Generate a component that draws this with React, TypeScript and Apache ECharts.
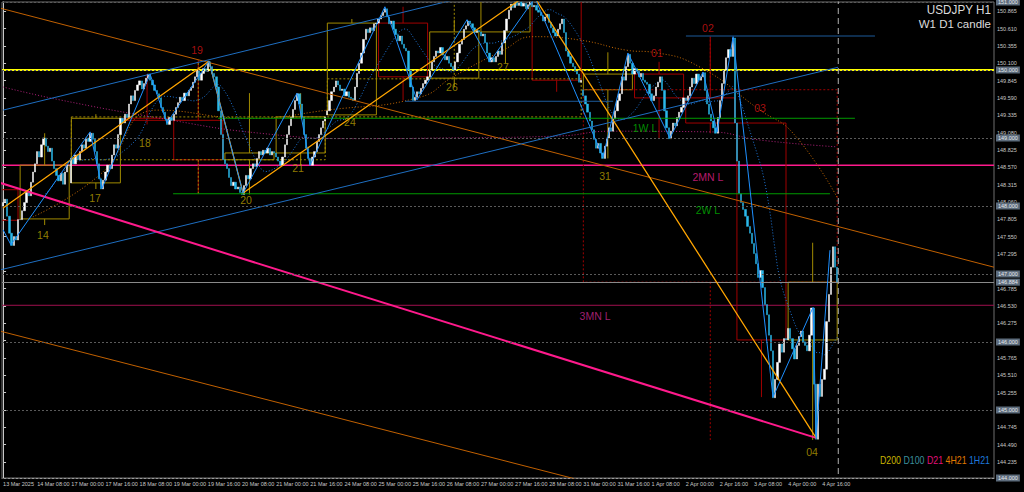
import { useEffect, useRef } from "react";
import * as echarts from "echarts";

// ---------------- DATA ----------------
// hourly closes, USDJPY H1 (13 Mar 16:00 -> 4 Apr 23:00)
const week1 = [
  148.05, 148.1, 147.85, 147.6, 147.42, 147.55, 147.5, 147.8, 147.8, 147.93,
  148.05, 148.2, 148.15, 148.35, 148.5, 148.62, 148.8, 148.72, 148.9, 149.0,
  148.88, 148.8, 148.85, 148.66, 148.55, 148.45, 148.37, 148.48, 148.32, 148.5,
  148.6, 148.6,
];
const week2 = [
  148.7, 148.62, 148.75, 148.68, 148.8, 148.9, 148.85, 149.0, 148.95, 149.07,
  148.98, 148.8, 148.62, 148.4, 148.25, 148.38, 148.5, 148.6, 148.55, 148.75,
  148.9, 148.85, 149.05, 149.29, 149.22, 149.35, 149.3, 149.5, 149.62, 149.55,
  149.7, 149.78, 149.84, 149.72, 149.8, 149.88, 149.94, 149.85, 149.78, 149.7,
  149.65, 149.59, 149.45, 149.38, 149.28, 149.2, 149.3, 149.26, 149.35, 149.45,
  149.52, 149.6, 149.55, 149.66, 149.62, 149.7, 149.74, 149.82, 149.9, 150.0,
  149.85, 149.95, 150.02, 149.98, 150.12, 150.05, 149.95, 149.9, 149.75, 149.4,
  149.05, 148.68, 148.62, 148.55, 148.42, 148.3, 148.35, 148.25, 148.28, 148.2,
  148.17, 148.3, 148.45, 148.4, 148.55, 148.62, 148.58, 148.7, 148.8, 148.75,
  148.82, 148.78, 148.85, 148.75, 148.8, 148.78, 148.72, 148.66, 148.6, 148.72,
  148.9, 149.05, 149.18, 149.3, 149.42, 149.55, 149.65, 149.5, 149.3, 149.05,
  148.85, 148.7, 148.6, 148.72, 148.8, 148.95, 149.05, 149.15, 149.25, 149.31,
];
const week3 = [
  149.4, 149.55, 149.68, 149.75, 149.84, 149.78, 149.7, 149.72, 149.62, 149.68,
  149.6, 149.58, 149.55, 149.75, 149.95, 150.1, 150.25, 150.45, 150.6, 150.55,
  150.62, 150.58, 150.68, 150.69,
  150.75, 150.8, 150.85, 150.9, 150.78, 150.68, 150.72, 150.6, 150.52, 150.43,
  150.5, 150.38, 150.32, 150.28, 150.0, 149.75, 149.55, 149.6, 149.68, 149.65,
  149.73, 149.8, 149.85, 149.9,
  150.0, 150.12, 150.2, 150.28, 150.25, 150.33, 150.22, 150.15, 150.2, 150.1,
  150.05, 150.0, 150.12, 150.25, 150.38, 150.45, 150.6, 150.65, 150.72, 150.68,
  150.62, 150.55, 150.58, 150.56,
  150.5, 150.53, 150.4, 150.25, 150.12, 150.18, 150.12, 150.2, 150.28, 150.23,
  150.4, 150.58, 150.75, 150.88, 150.97, 150.92, 151.0, 150.95, 151.0, 150.94,
  150.98, 150.9, 150.96, 151.0,
  150.93, 150.95, 150.88, 150.85, 150.8, 150.72, 150.78, 150.82, 150.7, 150.62,
  150.55, 150.5, 150.6, 150.68, 150.75, 150.55, 150.28, 150.2, 150.1, 150.05,
  149.98, 149.94, 149.82, 149.85,
];
const week4 = [
  149.62, 149.5, 149.38, 149.25, 149.12, 148.98, 148.85, 148.92, 148.78, 148.7,
  148.88, 149.0, 149.15, 149.1, 149.28, 149.4, 149.55, 149.65, 149.9, 149.85,
  150.05, 150.23, 150.1, 149.94,
  150.02, 149.98, 149.9, 149.95, 149.85, 149.82, 149.79, 149.65, 149.55, 149.62,
  149.75, 149.82, 149.9, 149.7, 149.4, 149.15, 148.99, 149.1, 149.22, 149.18,
  149.3, 149.38, 149.45, 149.59,
  149.55, 149.62, 149.75, 149.88, 149.8, 149.94, 149.85, 149.9, 149.96, 149.7,
  149.5, 149.35, 149.25, 149.15, 149.07, 149.3, 149.55, 149.8, 150.0, 150.18,
  150.3, 150.2, 150.47, 149.22,
  148.66, 148.18, 148.05, 147.95, 147.85, 147.7, 147.6, 147.45, 147.3, 147.15,
  146.95, 147.05, 146.8, 146.55, 146.4, 146.1, 145.87, 145.18, 145.45, 145.7,
  145.97, 145.85, 146.05, 146.03,
  146.2, 146.05, 145.9, 145.75, 145.95, 146.08, 146.16, 146.0, 145.95, 145.87,
  146.1, 146.5, 145.38, 144.57, 145.38, 145.2, 145.45, 145.6, 146.3, 146.7,
  147.1, 147.4, 147.1, 146.88,
];
const weekStartBars = [0, 32, 152, 272];
const weekOpens = [148.0, 148.34, 149.34, 149.71];

const tradingDays = [
  "13 Mar", "14 Mar", "17 Mar", "18 Mar", "19 Mar", "20 Mar", "21 Mar",
  "24 Mar", "25 Mar", "26 Mar", "27 Mar", "28 Mar",
  "31 Mar", "1 Apr", "2 Apr", "3 Apr", "4 Apr",
];
const firstDayStartHour = 16;
const totalSlots = 465;

// D1 candles (open, close, high, low) drawn as boxes
const dayOpens = [148.24, 147.81, 148.34, 149.29, 149.26, 148.68, 148.78, 149.34, 150.69, 149.88, 150.56, 151.03, 149.71, 149.94, 149.59, 149.22, 146.03];
const dayCloses = [147.79, 148.6, 149.29, 149.26, 148.68, 148.78, 149.31, 150.69, 149.9, 150.56, 151.03, 149.85, 149.94, 149.59, 149.22, 146.03, 146.88];
const dayHighs = [148.24, 149.07, 149.35, 149.94, 150.15, 149.66, 149.66, 150.75, 150.93, 150.74, 151.1, 151.05, 150.26, 150.12, 150.49, 149.22, 147.46];
const dayLows = [147.42, 147.72, 148.25, 149.2, 148.19, 148.17, 148.6, 149.34, 149.55, 149.75, 150.1, 149.68, 148.7, 148.99, 149.07, 145.19, 144.56];

// W1 candles
const weekBoxStart = [32, 152, 272];
const weekBoxEnd = [151, 271, 391];
const weekBoxOpens = [148.68, 149.31, 149.71];
const weekBoxCloses = [149.31, 149.87, 146.88];
const weekBoxHighs = [150.13, 151.1, 150.49];
const weekBoxLows = [148.17, 149.31, 144.56];

// moving averages [bar, price]
const ma4H21 = [
  [14, 147.84], [45.4, 148.46], [72.2, 149.41], [115.8, 149.29], [151.9, 149.41],
  [195.4, 149.6], [210.9, 149.9], [234.4, 150.29], [248.4, 150.49], [270.5, 150.44],
  [292.5, 150.29], [304.7, 150.26], [326.8, 150.04], [354.8, 149.41], [370.3, 149.07],
  [390.9, 148.13],
];
const maD21 = [
  [0, 149.75], [26.7, 149.56], [73.6, 149.29], [120.5, 149.07], [167.3, 148.99],
  [204.8, 149.0], [261.1, 149.03], [284.5, 149.1], [331.4, 149.09], [354.8, 148.97],
  [391, 148.87],
];
const hourlyMaPeriod = 21;

// price axis
const priceTicks = [
  144.235, 144.49, 144.745, 145.0, 145.255, 145.51, 145.765, 146.02, 146.275,
  146.53, 146.785, 147.04, 147.295, 147.55, 147.805, 148.06, 148.315, 148.57,
  148.825, 149.08, 149.335, 149.59, 149.845, 150.1, 150.355, 150.61, 150.865,
];
const coveredTickLabels = [145.0, 146.02, 147.04];
const roundLevels = [151, 150, 149, 148, 147, 146, 145, 144];
const bidPrice = 146.884;

// horizontal levels
const yellowLevel = 150.0;
const level2MN = 148.6;
const level3MN = 146.54;
const level1W = { from: 100.8, to: 399.3, price: 149.29 };
const level2W = { from: 79.7, to: 387.6, price: 148.18 };
const level02 = { from: 320.1, to: 408.7, price: 150.5 };
const levelMid = { from: 188.4, to: 286, price: 149.54 };

// trend lines [bar, price]
const magentaTrend = [[-1.4, 148.34], [381.1, 144.59]];
const blueChannelLow = [[-1.4, 147.06], [391.4, 150.04]];
const blueChannelHigh = [[0, 149.41], [215, 151.06]];
const orangeChannelHigh = [[-1.4, 150.91], [464.5, 147.1]];
const orangeChannelLow = [[-1.4, 146.16], [300, 143.73]];
const orangeZigzag = [[0, 147.97], [96.5, 150.13], [112.5, 148.19], [247.5, 151.15], [381.1, 144.59]];
const blueZigzag = [
  [0, 147.65], [3.7, 147.43], [40.8, 149.09], [46.4, 148.26], [68.9, 149.94],
  [76.8, 149.22], [96.5, 150.13], [112.5, 148.19], [137.8, 149.66], [143.9, 148.6],
  [179, 150.93], [194, 149.56], [217.5, 150.74], [228.2, 150.12], [249.3, 151.06],
  [281.2, 148.72], [292.9, 150.25], [312.6, 149.0], [328.1, 149.97], [334.7, 149.09],
  [342.2, 150.49], [360.9, 145.19], [379.7, 146.51], [381.1, 144.59], [387.6, 147.35],
];

// annotation texts [bar, price]
const dayMarks = [
  { t: "14", at: [18.7, 147.57], red: false },
  { t: "17", at: [43.1, 148.12], red: false },
  { t: "18", at: [66.5, 148.93], red: false },
  { t: "19", at: [90.9, 150.29], red: true },
  { t: "20", at: [113.9, 148.09], red: false },
  { t: "21", at: [138.3, 148.56], red: false },
  { t: "24", at: [162.6, 149.24], red: false },
  { t: "26", at: [210.4, 149.75], red: false },
  { t: "27", at: [234.3, 150.04], red: false },
  { t: "31", at: [282.2, 148.44], red: false },
  { t: "01", at: [306.5, 150.25], red: true },
  { t: "02", at: [330.4, 150.62], red: true },
  { t: "03", at: [354.8, 149.44], red: true },
  { t: "04", at: [379.2, 144.38], red: false },
];
const levelMarks = [
  { t: "1W L", at: [300.9, 149.15], c: "#00b400" },
  { t: "2W L", at: [330.4, 147.94], c: "#00b400" },
  { t: "2MN L", at: [330.4, 148.43], c: "#e0208a" },
  { t: "3MN L", at: [277.5, 146.38], c: "#c8288c" },
];

// ---------------- BUILD ----------------
const OLIVE = "#a08a00";
const RED = "#a00000";
const FONT = '"Liberation Sans"';

function buildCategories() {
  const cats: string[] = [];
  tradingDays.forEach((d, di) => {
    const start = di === 0 ? firstDayStartHour : 0;
    for (let h = start; h < 24; h++) {
      cats.push(di === 0 && h === start ? `${d} 2025` : `${d} ${String(h).padStart(2, "0")}:00`);
    }
  });
  let k = 0;
  while (cats.length < totalSlots) cats.push(`future-${k++}`);
  return cats;
}

function buildOption() {
  const closes = [...week1, ...week2, ...week3, ...week4];
  const nBars = closes.length;
  const categories = buildCategories();
  const candles = closes.map((c, i) => {
    const wk = weekStartBars.indexOf(i);
    const o = wk >= 0 ? weekOpens[wk] : closes[i - 1];
    return [o, c, Math.min(o, c), Math.max(o, c)];
  });
  // 1H21 moving average of the candles' closes
  const ma1H: number[][] = [];
  for (let i = hourlyMaPeriod - 1; i < nBars; i++) {
    let s = 0;
    for (let j = i - hourlyMaPeriod + 1; j <= i; j++) s += closes[j];
    ma1H.push([i, s / hourlyMaPeriod]);
  }
  const showIdx = (i: number) => i % 16 === 0 && i < nBars;

  // boxes & wicks
  const rects: number[][] = [];
  const segs: number[][] = [];
  tradingDays.forEach((_, di) => {
    const s = di === 0 ? -16 : 8 + (di - 1) * 24;
    const o = dayOpens[di], c = dayCloses[di];
    const kind = c >= o ? 0 : 1;
    rects.push([s, o, s + 23, c, kind]);
    const mid = s + 11.5;
    segs.push([mid, Math.max(o, c), mid, dayHighs[di], kind]);
    segs.push([mid, Math.min(o, c), mid, dayLows[di], kind]);
  });
  weekBoxStart.forEach((s, wi) => {
    const o = weekBoxOpens[wi], c = weekBoxCloses[wi];
    const kind = c >= o ? 2 : 3;
    const e = weekBoxEnd[wi];
    rects.push([s, o, e, c, kind]);
    const mid = (s + e) / 2;
    segs.push([mid, Math.max(o, c), mid, weekBoxHighs[wi], kind]);
    segs.push([mid, Math.min(o, c), mid, weekBoxLows[wi], kind]);
  });
  const kindStroke = [OLIVE, RED, OLIVE, RED];

  const line = (data: number[][], color: string, width: number, type: any = "solid", z = 4, smooth = false) => ({
    type: "line",
    xAxisIndex: 1,
    yAxisIndex: 0,
    data,
    symbol: "none",
    silent: true,
    smooth,
    z,
    lineStyle: { color, width, type },
  });
  const hline = (seg: { from: number; to: number; price: number }, color: string, width: number) =>
    line([[seg.from, seg.price], [seg.to, seg.price]], color, width);
  const full = (p: number) => [[-0.5, p], [totalSlots - 0.5, p]];

  const boxLabel = (txt: string) => ({
    show: true,
    position: "end",
    distance: 2,
    formatter: txt,
    backgroundColor: "#5d6c7c",
    color: "#e6e9ee",
    fontSize: 5.5,
    fontFamily: "Liberation Sans",
    padding: [1, 2, 0, 2],
  });

  const markLines: any[] = roundLevels.map((v) => ({
    yAxis: v,
    lineStyle: { color: "#5a5a5a", type: [2, 2], width: 1 },
    label: boxLabel(v.toFixed(3)),
  }));
  markLines.push({
    yAxis: bidPrice,
    lineStyle: { color: "#8a8a8a", type: "solid", width: 1 },
    label: boxLabel(bidPrice.toFixed(3)),
  });

  const textSeries = {
    type: "scatter",
    xAxisIndex: 1,
    yAxisIndex: 0,
    symbolSize: 0,
    silent: true,
    z: 6,
    data: [
      ...dayMarks.map((m) => ({
        value: m.at,
        name: m.t,
        label: { color: m.red ? "#d41414" : "#b89e00" },
      })),
      ...levelMarks.map((m) => ({ value: m.at, name: m.t, label: { color: m.c } })),
    ],
    label: {
      show: true,
      position: "inside",
      formatter: "{b}",
      fontSize: 10.5,
      fontFamily: "Liberation Sans",
    },
  };

  return {
    animation: false,
    backgroundColor: "#000000",
    grid: { left: 2, right: 30, top: 2, bottom: 14, show: true, borderColor: "#6e6e6e", borderWidth: 1 },
    xAxis: [
      {
        type: "category",
        data: categories,
        boundaryGap: true,
        axisLine: { lineStyle: { color: "#9a9a9a" } },
        axisTick: { alignWithLabel: true, interval: (i: number) => showIdx(i), length: 3, lineStyle: { color: "#9a9a9a" } },
        axisLabel: {
          interval: (i: number) => showIdx(i),
          align: "left",
          fontSize: 5.5,
          color: "#c8c8c8",
          margin: 3,
          fontFamily: "Liberation Sans",
        },
        splitLine: { show: false },
      },
      { type: "value", min: -0.5, max: totalSlots - 0.5, show: false },
    ],
    yAxis: {
      type: "value",
      position: "right",
      min: 144,
      max: 151,
      axisLine: { show: true, lineStyle: { color: "#c8c8c8" } },
      axisTick: { show: true, customValues: priceTicks, length: 3, lineStyle: { color: "#c8c8c8" } },
      axisLabel: {
        customValues: priceTicks.filter((v) => coveredTickLabels.indexOf(v) < 0),
        formatter: (v: number) => v.toFixed(3),
        fontSize: 5.5,
        color: "#c8c8c8",
        margin: 3,
        fontFamily: "Liberation Sans",
      },
      splitLine: { show: false },
    },
    series: [
      // full-width levels
      line(full(level3MN), "#a0104e", 1, "solid", 1),
      line(full(level2MN), "#ff1a8c", 1.5, "solid", 1),
      line(full(yellowLevel), "#ffff00", 2, "solid", 1),
      hline(level1W, "#009a00", 1),
      hline(level2W, "#009a00", 1),
      hline(level02, "#1d5a9a", 1),
      hline(levelMid, "#1d5a9a", 1),
      // channels / trendlines
      line(orangeChannelHigh, "#c06000", 1),
      line(orangeChannelLow, "#c06000", 1),
      line(blueChannelLow, "#1e6ec0", 1),
      line(blueChannelHigh, "#1e6ec0", 1),
      line(magentaTrend, "#ff1a8c", 2),
      // moving averages
      line(maD21, "#b0207a", 1, [1, 2], 2, true),
      line(ma4H21, "#c86a00", 1, [1, 2], 2, true),
      line(ma1H, "#1e78dc", 1, [1, 2], 2),
      {
        type: "custom",
        xAxisIndex: 1,
        yAxisIndex: 0,
        silent: true,
        clip: true,
        z: 2,
        data: rects,
        encode: { x: [0, 2], y: [1, 3] },
        renderItem: (_p: any, api: any) => {
          const a = api.coord([api.value(0), api.value(1)]);
          const b = api.coord([api.value(2), api.value(3)]);
          const k = api.value(4);
          return {
            type: "rect",
            shape: { x: Math.min(a[0], b[0]), y: Math.min(a[1], b[1]), width: Math.abs(b[0] - a[0]), height: Math.max(1, Math.abs(b[1] - a[1])) },
            style: { fill: "none", stroke: kindStroke[k], lineWidth: 1, lineDash: k >= 2 ? [2, 2] : null },
          };
        },
      },
      {
        type: "custom",
        xAxisIndex: 1,
        yAxisIndex: 0,
        silent: true,
        clip: true,
        z: 2,
        data: segs,
        encode: { x: [0, 2], y: [1, 3] },
        renderItem: (_p: any, api: any) => {
          const a = api.coord([api.value(0), api.value(1)]);
          const b = api.coord([api.value(2), api.value(3)]);
          const k = api.value(4);
          return {
            type: "line",
            shape: { x1: a[0], y1: a[1], x2: b[0], y2: b[1] },
            style: { stroke: kindStroke[k], lineWidth: 1, lineDash: k >= 2 ? [2, 2] : null },
          };
        },
      },
      {
        type: "candlestick",
        xAxisIndex: 0,
        yAxisIndex: 0,
        data: candles,
        barWidth: 1.8,
        silent: true,
        z: 3,
        itemStyle: {
          color: "#ffffff",
          color0: "#2bb8ea",
          borderColor: "#ffffff",
          borderColor0: "#2bb8ea",
          borderWidth: 0.5,
        },
        markLine: { symbol: "none", silent: true, data: markLines },
      },
      line(orangeZigzag, "#ffa500", 1.3, "solid", 5),
      line(blueZigzag, "#1e90ff", 1, "solid", 5),
      line([[391.5, 151.5], [391.5, 143.5]], "#b0b0b0", 1, [6, 4], 5),
      textSeries,
    ],
    graphic: [
      {
        type: "text",
        x: 991,
        y: 3,
        z: 100,
        scaleX: 0.9,
        style: { text: "USDJPY H1", fill: "#dcdcdc", font: `13px ${FONT}`, align: "right", verticalAlign: "top" },
      },
      {
        type: "text",
        x: 991,
        y: 18,
        z: 100,
        style: { text: "W1 D1 candle", fill: "#dcdcdc", font: `11.5px ${FONT}`, align: "right", verticalAlign: "top" },
      },
      {
        type: "text",
        x: 990,
        y: 455,
        z: 100,
        scaleX: 0.8,
        style: {
          text: "{a|D200} {b|D100} {c|D21} {d|4H21} {e|1H21}",
          align: "right",
          verticalAlign: "top",
          font: `11px ${FONT}`,
          rich: {
            a: { fill: "#c8b400", font: `11px ${FONT}` },
            b: { fill: "#3a8f9c", font: `11px ${FONT}` },
            c: { fill: "#e0107a", font: `11px ${FONT}` },
            d: { fill: "#e07a00", font: `11px ${FONT}` },
            e: { fill: "#1e78dc", font: `11px ${FONT}` },
          },
        },
      },
    ],
  };
}

export default function App() {
  const ref = useRef<HTMLDivElement>(null);
  useEffect(() => {
    document.body.style.margin = "0";
    document.body.style.background = "#000";
    const chart = echarts.init(ref.current!, undefined, { renderer: "svg" });
    chart.setOption(buildOption() as any);
    return () => chart.dispose();
  }, []);
  return <div ref={ref} style={{ width: 1024, height: 492, background: "#000" }} />;
}
